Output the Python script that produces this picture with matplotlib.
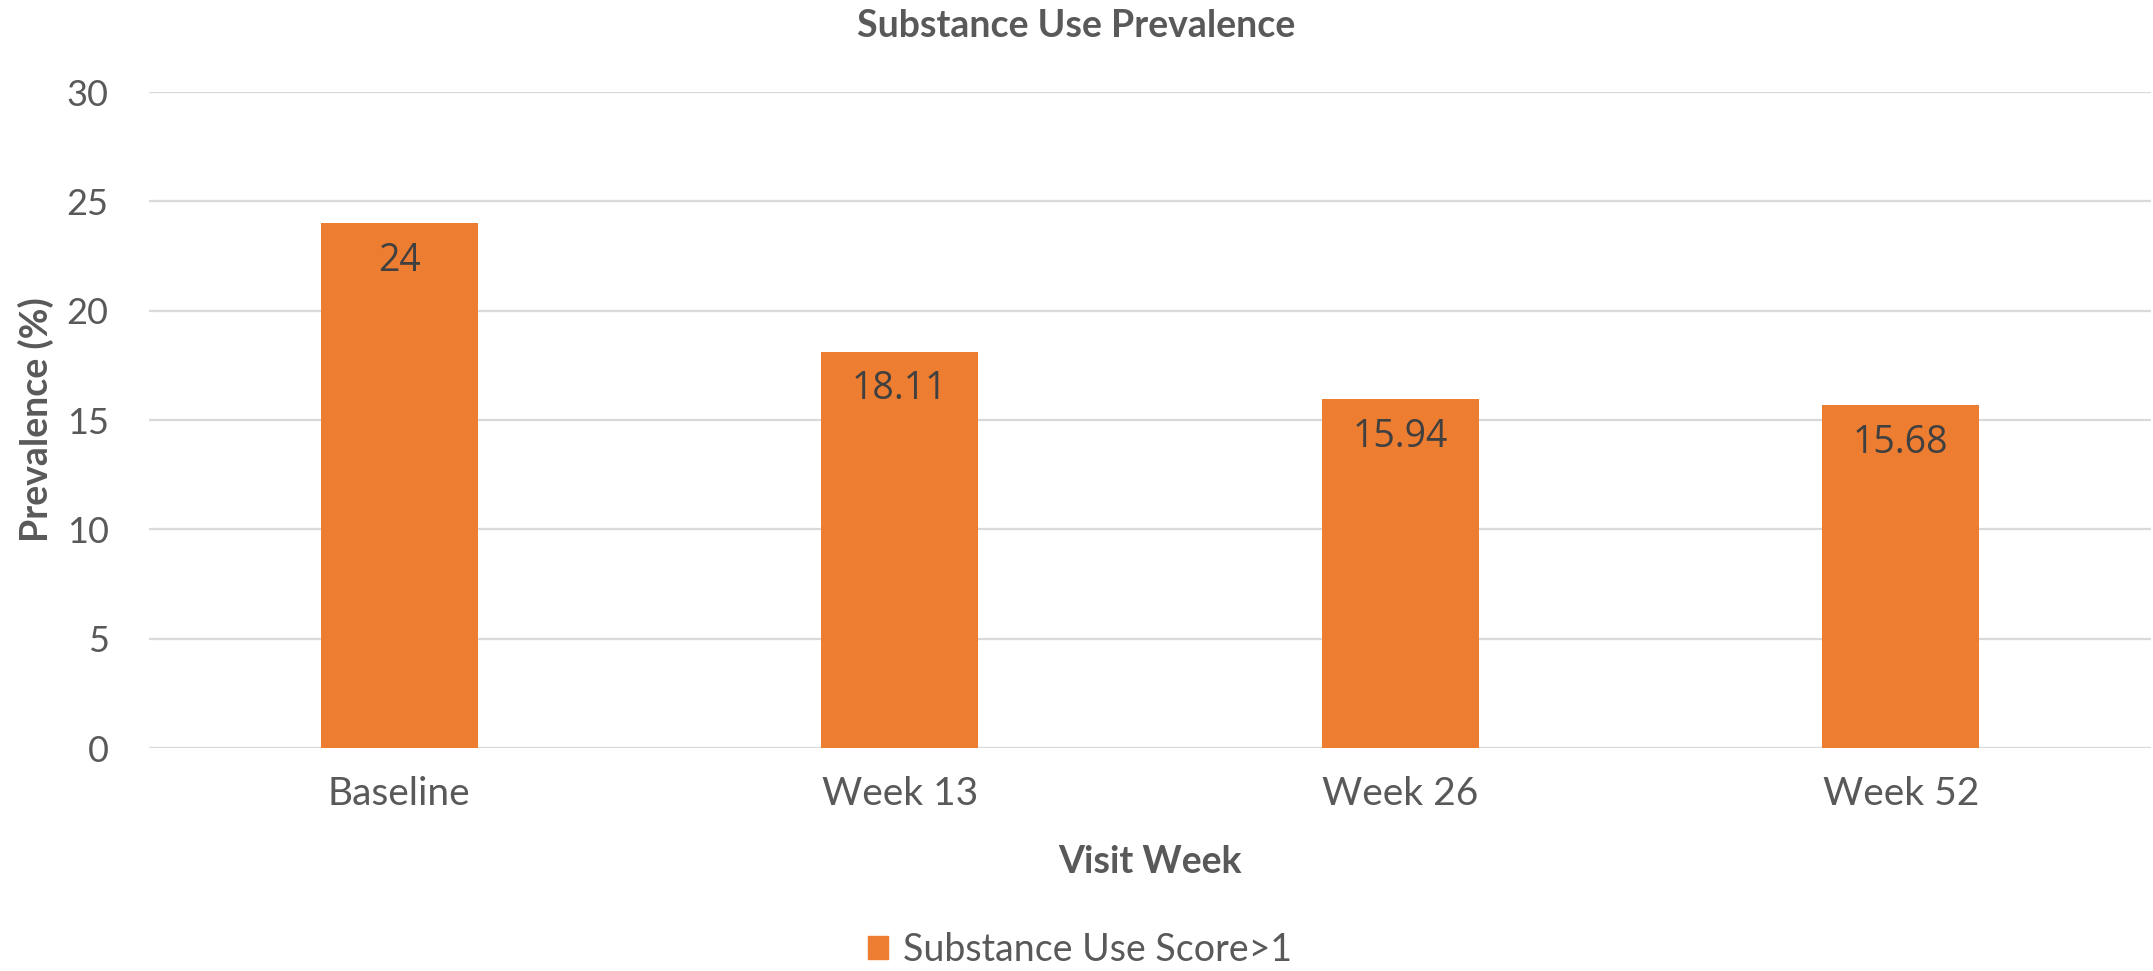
import matplotlib
matplotlib.use('Agg')
import matplotlib.pyplot as plt
import numpy as np
from matplotlib.patches import Patch


categories = ['Baseline', 'Week 13', 'Week 26', 'Week 52']
prevalence = [24, 18.11, 15.94, 15.68]
value_labels = ['24', '18.11', '15.94', '15.68']
series_name = 'Substance Use Score>1'
y_ticks = [0, 5, 10, 15, 20, 25, 30]

orange = '#ED7D31'
grey = '#595959'


def main():
	plt.rcParams['font.family'] = ['Lato', 'DejaVu Sans']
	fig = plt.figure(figsize=[21.53, 9.71], dpi=100)
	ax = fig.add_axes([149 / 2153, 1 - 748 / 971, 2002 / 2153, 656 / 971])

	x_axis = np.arange(len(categories))
	bars = ax.bar(x_axis, prevalence, width=0.314, color=orange, zorder=2)

	for rect, lab in zip(bars, value_labels):
		ax.annotate(lab, (rect.get_x() + rect.get_width() / 2, rect.get_height()),
			xytext=(0, -27), textcoords='offset points', ha='center', va='center',
			fontsize=27, color='#404040', family='Open Sans')

	ax.set_xlim(-0.5, len(categories) - 0.5)
	ax.set_ylim(0, 30)
	ax.set_yticks(y_ticks)
	ax.set_xticks(x_axis, categories)
	ax.tick_params(axis='both', length=0, labelcolor=grey)
	ax.tick_params(axis='x', pad=20, labelsize=28)
	ax.tick_params(axis='y', pad=29, labelsize=26)

	ax.grid(axis='y', color='#d9d9d9', linewidth=1.6, zorder=0)
	for s in ax.spines.values():
		s.set_visible(False)

	fig.text(0.4997, 1 - 26 / 971, 'Substance Use Prevalence', ha='center', va='center',
		fontsize=27, fontweight='bold', color=grey)
	fig.text(36 / 2153, 1 - 420 / 971, 'Prevalence (%)', rotation=90, ha='center', va='center',
		fontsize=27, fontweight='bold', color=grey)
	fig.text(1150 / 2153, 1 - 862 / 971, 'Visit Week', ha='center', va='center',
		fontsize=27, fontweight='bold', color=grey)

	fig.legend(handles=[Patch(color=orange, label=series_name)], loc='center',
		bbox_to_anchor=(1080 / 2153, 1 - 950 / 971), frameon=False, fontsize=27,
		labelcolor=grey, handlelength=0.55, handleheight=0.55, handletextpad=0.4)

	fig.savefig('out.png', dpi=100)


if __name__ == "__main__":
	main()
